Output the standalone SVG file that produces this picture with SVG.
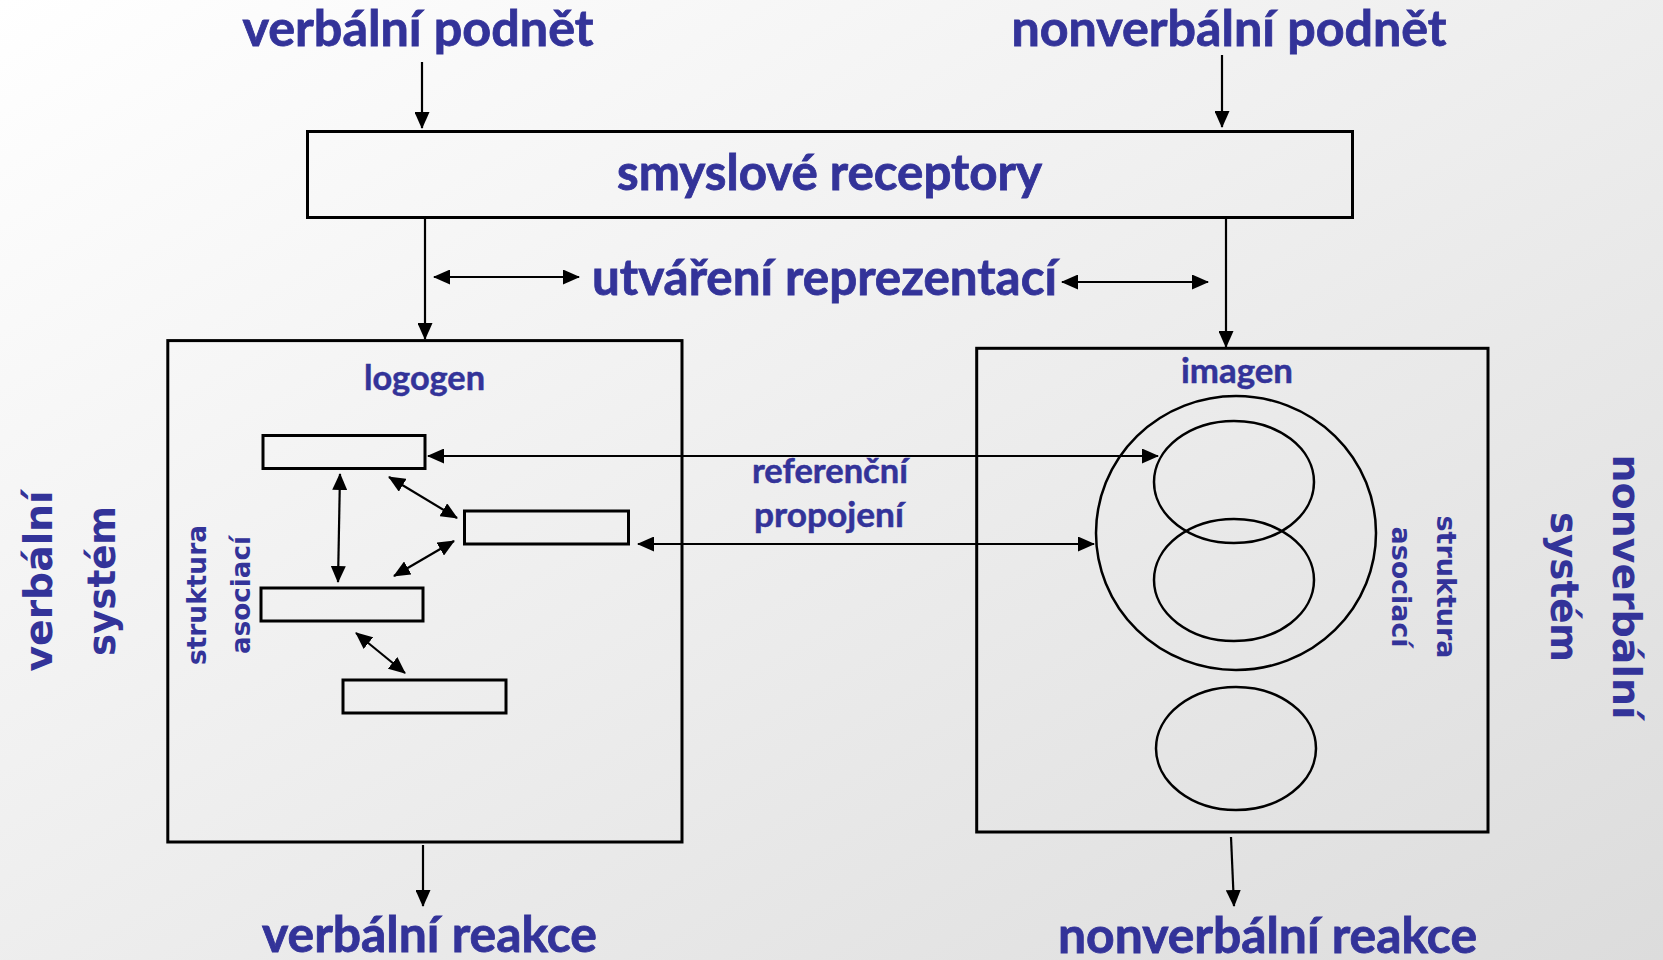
<svg xmlns="http://www.w3.org/2000/svg" width="1663" height="960" viewBox="0 0 1663 960">
  <defs>
    <linearGradient id="bg" x1="0" y1="0" x2="1" y2="1">
      <stop offset="0" stop-color="#ffffff"/>
      <stop offset="1" stop-color="#dcdcdc"/>
    </linearGradient>
    <marker id="ah" markerUnits="userSpaceOnUse" markerWidth="17" markerHeight="15" refX="16" refY="7.5" orient="auto-start-reverse" viewBox="0 0 17 15">
      <path d="M0,0 L17,7.5 L0,15 z" fill="#000"/>
    </marker>
    <style>
      .lbl { font-family: Lato, "Open Sans", "Liberation Sans", sans-serif; font-weight: bold; fill: #333399; stroke: #333399; stroke-width: 0.8; text-anchor: middle; }
      .big { font-size: 49px; }
      .mid { font-size: 34px; stroke-width: 0.5; }
      .rot { font-family: "DejaVu Sans", Verdana, "Liberation Sans", sans-serif; font-weight: bold; fill: #333399; text-anchor: middle; }
      .rotbig { font-size: 39px; }
      .rotsm { font-size: 26px; }
      .box { fill: none; stroke: #000; stroke-width: 3; }
      .ell { fill: none; stroke: #000; stroke-width: 2.5; }
      .con { fill: none; stroke: #000; stroke-width: 2.2; }
      .one { marker-end: url(#ah); }
      .two { marker-start: url(#ah); marker-end: url(#ah); }
    </style>
  </defs>

  <rect x="0" y="0" width="1663" height="960" fill="url(#bg)"/>

  <g id="verbalni-podnet">
    <text class="lbl big" x="418" y="46" textLength="351" lengthAdjust="spacingAndGlyphs">verbální podnět</text>
  </g>
  <g id="nonverbalni-podnet">
    <text class="lbl big" x="1229" y="46" textLength="435" lengthAdjust="spacingAndGlyphs">nonverbální podnět</text>
  </g>

  <g id="smyslove-receptory">
    <rect class="box" x="307.5" y="131.5" width="1045" height="86" stroke-width="3.5"/>
    <text class="lbl big" x="829.5" y="190" textLength="425" lengthAdjust="spacingAndGlyphs">smyslové receptory</text>
  </g>

  <g id="utvareni-reprezentaci">
    <text class="lbl big" x="824.5" y="295" textLength="465" lengthAdjust="spacingAndGlyphs">utváření reprezentací</text>
  </g>

  <g id="verbalni-system">
    <rect class="box" x="167.8" y="340.6" width="514.2" height="501.4"/>
    <text class="lbl mid" x="424.5" y="390" textLength="121" lengthAdjust="spacingAndGlyphs">logogen</text>
    <g transform="translate(206,595) rotate(-90)">
      <text class="rot rotsm" x="0" y="0" textLength="140" lengthAdjust="spacingAndGlyphs">struktura</text>
      <text class="rot rotsm" x="0" y="44" textLength="118" lengthAdjust="spacingAndGlyphs">asociací</text>
    </g>
  </g>

  <g id="logogen-1"><rect class="box" x="263" y="435.5" width="162" height="33"/></g>
  <g id="logogen-2"><rect class="box" x="464.5" y="511" width="164" height="33"/></g>
  <g id="logogen-3"><rect class="box" x="261" y="588" width="162" height="33"/></g>
  <g id="logogen-4"><rect class="box" x="343" y="680" width="163" height="33"/></g>

  <g id="nonverbalni-system">
    <rect class="box" x="976.7" y="348.3" width="511.3" height="483.7"/>
    <text class="lbl mid" x="1237" y="383" textLength="112" lengthAdjust="spacingAndGlyphs">imagen</text>
    <g transform="translate(1437,587) rotate(90)">
      <text class="rot rotsm" x="0" y="0" textLength="143" lengthAdjust="spacingAndGlyphs">struktura</text>
      <text class="rot rotsm" x="0" y="45" textLength="121" lengthAdjust="spacingAndGlyphs">asociací</text>
    </g>
  </g>

  <g id="imagen-skupina"><ellipse class="ell" cx="1236" cy="533" rx="140" ry="137"/></g>
  <g id="imagen-1"><ellipse class="ell" cx="1234" cy="482" rx="80" ry="61"/></g>
  <g id="imagen-2"><ellipse class="ell" cx="1234" cy="580" rx="80" ry="61"/></g>
  <g id="imagen-3"><ellipse class="ell" cx="1236" cy="748.5" rx="80" ry="61.5"/></g>

  <g id="referencni-propojeni">
    <text class="lbl mid" x="830" y="483" textLength="156" lengthAdjust="spacingAndGlyphs">referenční</text>
    <text class="lbl mid" x="829" y="527" textLength="150" lengthAdjust="spacingAndGlyphs">propojení</text>
  </g>

  <g id="verbalni-system-label">
    <g transform="translate(52,581) rotate(-90)">
      <text class="rot rotbig" x="0" y="0" textLength="181" lengthAdjust="spacingAndGlyphs">verbální</text>
      <text class="rot rotbig" x="0" y="63" textLength="150" lengthAdjust="spacingAndGlyphs">systém</text>
    </g>
  </g>
  <g id="nonverbalni-system-label">
    <g transform="translate(1613,587) rotate(90)">
      <text class="rot rotbig" x="0" y="0" textLength="265" lengthAdjust="spacingAndGlyphs">nonverbální</text>
      <text class="rot rotbig" x="0" y="62" textLength="150" lengthAdjust="spacingAndGlyphs">systém</text>
    </g>
  </g>

  <g id="verbalni-reakce">
    <text class="lbl big" x="429.5" y="952" textLength="335" lengthAdjust="spacingAndGlyphs">verbální reakce</text>
  </g>
  <g id="nonverbalni-reakce">
    <text class="lbl big" x="1267.5" y="953" textLength="419" lengthAdjust="spacingAndGlyphs">nonverbální reakce</text>
  </g>

  <g id="connectors">
    <line class="con one" x1="422" y1="62" x2="422" y2="128"/>
    <line class="con one" x1="1222" y1="55" x2="1222" y2="127"/>
    <line class="con one" x1="425" y1="219" x2="425" y2="339"/>
    <line class="con one" x1="1226" y1="219" x2="1226" y2="347"/>
    <line class="con two" x1="434" y1="277" x2="579" y2="277"/>
    <line class="con two" x1="1062" y1="282" x2="1208" y2="282"/>
    <line class="con two" x1="428" y1="456" x2="1158" y2="456"/>
    <line class="con two" x1="638" y1="544" x2="1094" y2="544"/>
    <line class="con two" x1="340" y1="474" x2="338" y2="582"/>
    <line class="con two" x1="389" y1="477" x2="457" y2="518"/>
    <line class="con two" x1="454" y1="541" x2="394" y2="576"/>
    <line class="con two" x1="356" y1="633" x2="405" y2="673"/>
    <line class="con one" x1="423" y1="845" x2="423" y2="906"/>
    <line class="con one" x1="1231" y1="837" x2="1234" y2="906"/>
  </g>
</svg>
